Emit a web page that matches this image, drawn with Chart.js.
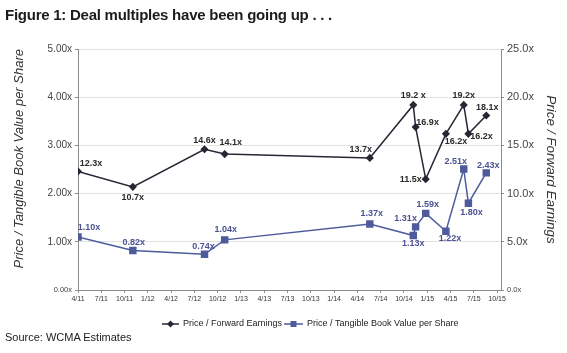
<!DOCTYPE html>
<html>
<head>
<meta charset="utf-8">
<script src="https://cdn.jsdelivr.net/npm/chart.js@4.4.1/dist/chart.umd.min.js"></script>
<style>
  body { margin: 0; background: #fff; }
  #wrap { position: relative; width: 567px; height: 353px; }
  #title { position: absolute; left: 5px; top: 6px; font: bold 15px "Liberation Sans", Arial, sans-serif; letter-spacing: -0.25px; color: #1c1c1c; white-space: nowrap; }
  #source { position: absolute; left: 5px; top: 331px; font: 11px "Liberation Sans", Arial, sans-serif; color: #222; }
  canvas { position: absolute; left: 0; top: 0; }
</style>
</head>
<body>
<div id="wrap">
  <canvas id="deal-chart" width="567" height="353"></canvas>
  <div id="title">Figure 1: Deal multiples have been going up . . .</div>
  <div id="source">Source: WCMA Estimates</div>
</div>
<script>
// deal dates and multiples
const dealDates = ['2011-04-01', '2011-11-03', '2012-08-10', '2012-10-28', '2014-05-19', '2014-11-07',
                   '2014-11-16', '2014-12-25', '2015-03-13', '2015-05-22', '2015-06-10', '2015-08-19'];
const peValues = [12.3, 10.7, 14.6, 14.1, 13.7, 19.2, 16.9, 11.5, 16.2, 19.2, 16.2, 18.1];
const tbvValues = [1.10, 0.82, 0.74, 1.04, 1.37, 1.13, 1.31, 1.59, 1.22, 2.51, 1.80, 2.43];
const peLabelText = ['12.3x', '10.7x', '14.6x', '14.1x', '13.7x', '19.2 x', '16.9x', '11.5x', '16.2x', '19.2x', '16.2x', '18.1x'];

const tickLabels = ['4/11', '7/11', '10/11', '1/12', '4/12', '7/12', '10/12', '1/13', '4/13', '7/13',
                    '10/13', '1/14', '4/14', '7/14', '10/14', '1/15', '4/15', '7/15', '10/15'];
const leftTicks = [0, 1, 2, 3, 4, 5];
const rightTicks = [0, 5, 10, 15, 20, 25];

// months since April 2011
function monthsFrom(dateStr) {
    const [y, m, d] = dateStr.split('-').map(Number);
    return (y - 2011) * 12 + (m - 4) + (d - 1) / 30;
}
const tickMonths = tickLabels.map((t, i) => i * 3);

// where each value label sits relative to its point
const peLabelOffsets = [[13, -8], [0, 11], [0, -9], [6, -12], [-9, -8], [0, -9],
                        [12, -5], [-15, 0], [10, 8], [0, -9], [13, 3], [1, -8]];
const tbvLabelOffsets = [[11, -9], [1, -8], [-1, -8], [1, -10], [2, -10], [0, 8],
                         [-10, -8], [2, -9], [4, 7], [-8, -8], [3, 9], [2, -7]];

const PE_COLOR = '#262634';
const TBV_COLOR = '#4d5b9c';

const valueLabels = {
    id: 'valueLabels',
    afterDatasetsDraw(chart) {
        const ctx = chart.ctx;
        ctx.save();
        ctx.font = 'bold 9px "Liberation Sans", Arial, sans-serif';
        ctx.textAlign = 'center';
        ctx.textBaseline = 'middle';
        chart.data.datasets.forEach((ds, i) => {
            chart.getDatasetMeta(i).data.forEach((pt, j) => {
                const [dx, dy] = ds.labelOffsets[j];
                ctx.fillStyle = ds.labelColor;
                ctx.fillText(ds.labelText[j], pt.x + dx, pt.y + dy);
            });
        });
        ctx.restore();
    }
};

const bottomLegend = {
    id: 'bottomLegend',
    afterDraw(chart) {
        const ctx = chart.ctx;
        ctx.save();
        ctx.font = '9px "Liberation Sans", Arial, sans-serif';
        ctx.textBaseline = 'middle';
        ctx.fillStyle = '#222';
        const y = 324;
        // forward earnings
        ctx.strokeStyle = PE_COLOR;
        ctx.lineWidth = 1.5;
        ctx.beginPath(); ctx.moveTo(162, y); ctx.lineTo(179, y); ctx.stroke();
        ctx.fillStyle = PE_COLOR;
        ctx.beginPath(); ctx.moveTo(170.5, y - 3.5); ctx.lineTo(174, y); ctx.lineTo(170.5, y + 3.5); ctx.lineTo(167, y); ctx.fill();
        ctx.fillStyle = '#222';
        ctx.fillText('Price / Forward Earnings', 183, y);
        // tangible book
        ctx.strokeStyle = TBV_COLOR;
        ctx.beginPath(); ctx.moveTo(284, y); ctx.lineTo(303, y); ctx.stroke();
        ctx.fillStyle = TBV_COLOR;
        ctx.fillRect(290.5, y - 3, 6, 6);
        ctx.fillStyle = '#222';
        ctx.fillText('Price / Tangible Book Value per Share', 307, y);
        ctx.restore();
    }
};

new Chart(document.querySelector('#deal-chart').getContext('2d'), {
    type: 'line',
    data: {
        datasets: [
            {
                label: 'Price / Forward Earnings',
                data: dealDates.map((d, i) => ({ x: monthsFrom(d), y: peValues[i] })),
                yAxisID: 'y1',
                borderColor: PE_COLOR,
                backgroundColor: PE_COLOR,
                borderWidth: 1.5,
                pointStyle: 'rectRot',
                pointRadius: 3,
                tension: 0,
                labelText: peLabelText,
                labelOffsets: peLabelOffsets,
                labelColor: '#2a2a2a'
            },
            {
                label: 'Price / Tangible Book Value per Share',
                data: dealDates.map((d, i) => ({ x: monthsFrom(d), y: tbvValues[i] })),
                yAxisID: 'y',
                borderColor: TBV_COLOR,
                backgroundColor: TBV_COLOR,
                borderWidth: 1.5,
                pointStyle: 'rect',
                pointRadius: 4.2,
                tension: 0,
                labelText: tbvValues.map(v => v.toFixed(2) + 'x'),
                labelOffsets: tbvLabelOffsets,
                labelColor: '#4a5293'
            }
        ]
    },
    options: {
        responsive: false,
        animation: false,
        layout: { padding: { top: 49, bottom: 43, left: 0, right: 0 } },
        plugins: {
            legend: { display: false },
            tooltip: { enabled: false }
        },
        scales: {
            x: {
                type: 'linear',
                min: 0,
                max: 54.5,
                afterBuildTicks: s => { s.ticks = tickMonths.map(v => ({ value: v })); },
                afterFit: s => { s.height = 20; },
                grid: { drawOnChartArea: false, tickLength: 3, color: '#8c8c8c' },
                border: { color: '#8c8c8c' },
                ticks: {
                    callback: (v, i) => tickLabels[i],
                    autoSkip: false,
                    maxRotation: 0,
                    padding: 2,
                    color: '#333',
                    font: { family: '"Liberation Sans", Arial, sans-serif', size: 7 }
                }
            },
            y: {
                position: 'left',
                min: 0,
                max: 5,
                afterBuildTicks: s => { s.ticks = leftTicks.map(v => ({ value: v })); },
                afterFit: s => { s.width = 78; },
                grid: { color: '#e2e2e2', tickColor: '#8c8c8c', tickLength: 3 },
                border: { color: '#8c8c8c' },
                ticks: {
                    callback: v => v.toFixed(2) + 'x',
                    padding: 3,
                    color: '#444',
                    font: c => ({ family: '"Liberation Sans", Arial, sans-serif', size: c.tick && c.tick.value === 0 ? 7.5 : 10 })
                },
                title: {
                    display: true,
                    text: 'Price / Tangible Book Value per Share',
                    align: 'end',
                    color: '#333',
                    padding: { top: 12 },
                    font: { family: '"Liberation Sans", Arial, sans-serif', size: 13, style: 'italic' }
                }
            },
            y1: {
                position: 'right',
                min: 0,
                max: 25,
                afterBuildTicks: s => { s.ticks = rightTicks.map(v => ({ value: v })); },
                afterFit: s => { s.width = 66; },
                grid: { drawOnChartArea: false, color: '#8c8c8c', tickLength: 3 },
                border: { color: '#8c8c8c' },
                ticks: {
                    callback: v => v.toFixed(1) + 'x',
                    padding: 3,
                    color: '#444',
                    font: c => ({ family: '"Liberation Sans", Arial, sans-serif', size: c.tick && c.tick.value === 0 ? 7.5 : 11 })
                },
                title: {
                    display: true,
                    text: 'Price / Forward Earnings',
                    color: '#333',
                    padding: { top: 8 },
                    font: { family: '"Liberation Sans", Arial, sans-serif', size: 13.5, style: 'italic' }
                }
            }
        }
    },
    plugins: [valueLabels, bottomLegend]
});
</script>
</body>
</html>
